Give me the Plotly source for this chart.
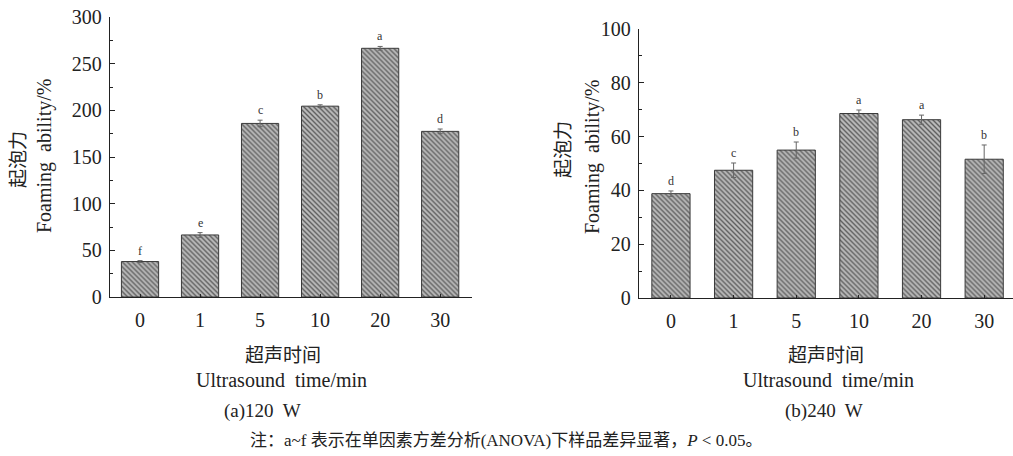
import plotly.graph_objects as go

# ---- data ----
times = ["0", "1", "5", "10", "20", "30"]
fa_120 = [38, 66.5, 186, 204.5, 266.5, 177.5]
err_120 = [1.0, 2.5, 3.5, 1.5, 2.0, 2.5]
sig_120 = ["f", "e", "c", "b", "a", "d"]

fa_240 = [38.8, 47.5, 55.0, 68.6, 66.3, 51.6]
err_240 = [1.0, 2.7, 3.0, 1.3, 1.7, 5.3]
sig_240 = ["d", "c", "b", "a", "a", "b"]

SERIF = "Liberation Serif, Noto Sans CJK SC, serif"

W, H = 1013, 456
def px(x):
    return x / W
def py(y):
    return 1 - y / H

pos = list(range(len(times)))

fig = go.Figure()

def add_bars(vals, errs, xa, ya, width):
    fig.add_trace(go.Bar(
        x=pos, y=vals, width=width, xaxis=xa, yaxis=ya,
        marker=dict(color="#bababa",
                    line=dict(color="#3a3a3a", width=1),
                    pattern=dict(shape="\\", fgcolor="#5e5e5e", bgcolor="#bababa",
                                 size=3.5, solidity=0.4, fillmode="replace")),
        error_y=dict(type="data", array=errs, visible=True, color="#666666",
                     thickness=1, width=2.5),
        showlegend=False, hoverinfo="skip",
    ))

add_bars(fa_120, err_120, "x", "y", 0.62)
add_bars(fa_240, err_240, "x2", "y2", 0.61)

axis_common = dict(showline=True, linecolor="#222222", linewidth=1.2,
                   showgrid=False, zeroline=False, mirror=False, automargin=False,
                   tickfont=dict(family=SERIF, size=20, color="#222222"))

fig.update_layout(
    template="none",
    width=W, height=H,
    margin=dict(l=0, r=0, t=0, b=0, pad=0, autoexpand=False),
    paper_bgcolor="white", plot_bgcolor="white",
    font=dict(family=SERIF, color="#222222"),
    xaxis=dict(domain=[px(110), px(472)], range=[-0.5, 5.53], anchor="y",
               tickmode="array", tickvals=pos, ticktext=times,
               ticks="inside", ticklen=3, tickcolor="#222222",
               ticklabelstandoff=5, **axis_common),
    yaxis=dict(domain=[py(297), py(17)], range=[0, 300.05], anchor="x",
               tickmode="linear", tick0=0, dtick=50,
               ticks="inside", ticklen=5, tickcolor="#222222",
               minor=dict(dtick=25, ticklen=2.5, ticks="inside", tickcolor="#222222"),
               ticklabelstandoff=3, **axis_common),
    xaxis2=dict(domain=[px(639), 1.0], range=[-0.51, 5.46], anchor="y2",
                tickmode="array", tickvals=pos, ticktext=times,
                ticks="inside", ticklen=3, tickcolor="#222222",
                ticklabelstandoff=5, **axis_common),
    yaxis2=dict(domain=[py(298), py(29)], range=[0, 100.02], anchor="x2",
                tickmode="linear", tick0=0, dtick=20,
                ticks="inside", ticklen=5, tickcolor="#222222",
                minor=dict(dtick=10, ticklen=2.5, ticks="inside", tickcolor="#222222"),
                ticklabelstandoff=3, **axis_common),
)

ann = []
# significance letters
for xr, yr, vals, errs, sig in [("x", "y", fa_120, err_120, sig_120),
                                ("x2", "y2", fa_240, err_240, sig_240)]:
    for i, (v, e, s) in enumerate(zip(vals, errs, sig)):
        ann.append(dict(x=i, y=v + e, xref=xr, yref=yr, text=s, showarrow=False,
                        yanchor="bottom", yshift=1,
                        font=dict(family=SERIF, size=12, color="#333333")))

def text(x, y, t, size, angle=0):
    ann.append(dict(x=px(x), y=py(y), xref="paper", yref="paper", text=t,
                    showarrow=False, xanchor="center", yanchor="middle",
                    textangle=angle, font=dict(family=SERIF, size=size, color="#222222")))

# y-axis titles
text(18, 160, "起泡力", 19, -90)
text(45, 156, "Foaming  ability/%", 20, -90)
text(563, 150, "起泡力", 19, -90)
text(592, 157, "Foaming  ability/%", 20, -90)

# x-axis titles
text(283, 355, "超声时间", 19)
text(281, 380, "Ultrasound  time/min", 20)
text(826, 355, "超声时间", 19)
text(828, 380, "Ultrasound  time/min", 20)

# captions
text(262, 411, "(a)120  W", 19)
text(824, 411, "(b)240  W", 19)
text(506, 440, "注：a~f 表示在单因素方差分析(ANOVA)下样品差异显著，<i>P</i> &lt; 0.05。", 17)

fig.update_layout(annotations=ann)

fig.write_html("out.html",
               config={"displayModeBar": False, "staticPlot": True},
               post_script="document.body.style.margin='0px';document.body.style.overflow='hidden';")
